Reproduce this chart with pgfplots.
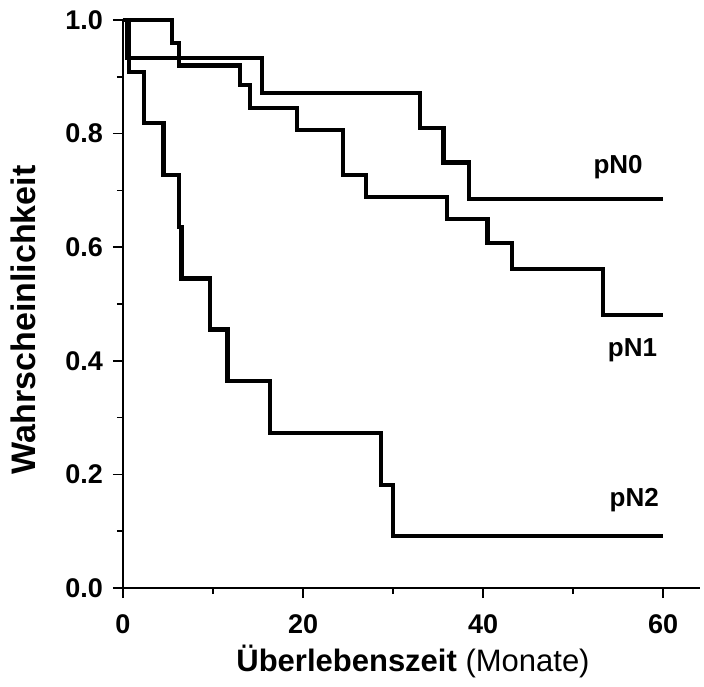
\documentclass[border=0pt]{standalone}
\usepackage{pgfplots}
\pgfplotsset{compat=1.18}
\usepackage{fontspec}
\setmainfont{Liberation Sans}
\begin{document}
\begin{tikzpicture}
\path[use as bounding box] (-61.5pt,-49pt) rectangle (290.5pt,294pt);
\begin{axis}[
  at={(0pt,0pt)}, anchor=south west,
  scale only axis, width=288.5pt, height=284pt,
  xmin=0, xmax=64.1, ymin=0, ymax=1.0,
  axis lines=left, axis line style={line width=1pt, -},
  xtick={0,20,40,60}, ytick={0,0.2,0.4,0.6,0.8,1.0},
  minor x tick num=1, minor y tick num=1,
  tick align=outside, tick style={line width=0.8pt, black},
  major tick length=5pt, minor tick length=3pt,
  /pgf/number format/assume math mode=true,
  ticklabel style={font=\fontsize{13.5}{15}\selectfont\bfseries},
  yticklabel style={/pgf/number format/fixed, /pgf/number format/precision=1, /pgf/number format/fixed zerofill, xshift=-1.5pt},
  xticklabel style={yshift=-5pt},
  xlabel={\textbf{Überlebenszeit} (Monate)},
  ylabel={\textbf{Wahrscheinlichkeit}},
  xlabel style={font=\fontsize{15.5}{18}\selectfont, at={(axis description cs:0.5026,-0.1461)}, anchor=base},
  ylabel style={font=\fontsize{17}{20}\selectfont, at={(axis description cs:-0.1525,0.472)}, anchor=base},
  clip=false,
]
\addplot[const plot, line width=2.1pt, black] coordinates {
 (0,1.0) (0.5,0.933) (15.4,0.871) (33,0.81) (35.6,0.749) (38.4,0.685) (60,0.685)};
\addplot[const plot, line width=2.1pt, black] coordinates {
 (0,1.0) (5.4,0.96) (6.2,0.92) (13,0.885) (14.1,0.845) (19.3,0.806) (24.4,0.727) (27,0.689) (36,0.649) (40.5,0.607) (43.2,0.561) (53.3,0.481) (60,0.481)};
\addplot[const plot, line width=2.1pt, black] coordinates {
 (0,1.0) (0.7,0.909) (2.3,0.818) (4.5,0.727) (6.2,0.636) (6.5,0.545) (9.7,0.455) (11.6,0.364) (16.3,0.273) (28.7,0.182) (30,0.091) (60,0.091)};
\node[font=\fontsize{13}{15}\selectfont\bfseries] at (axis cs:55,0.741) {pN0};
\node[font=\fontsize{13}{15}\selectfont\bfseries] at (axis cs:56.6,0.419) {pN1};
\node[font=\fontsize{13}{15}\selectfont\bfseries] at (axis cs:56.8,0.155) {pN2};
\end{axis}
\end{tikzpicture}
\end{document}
